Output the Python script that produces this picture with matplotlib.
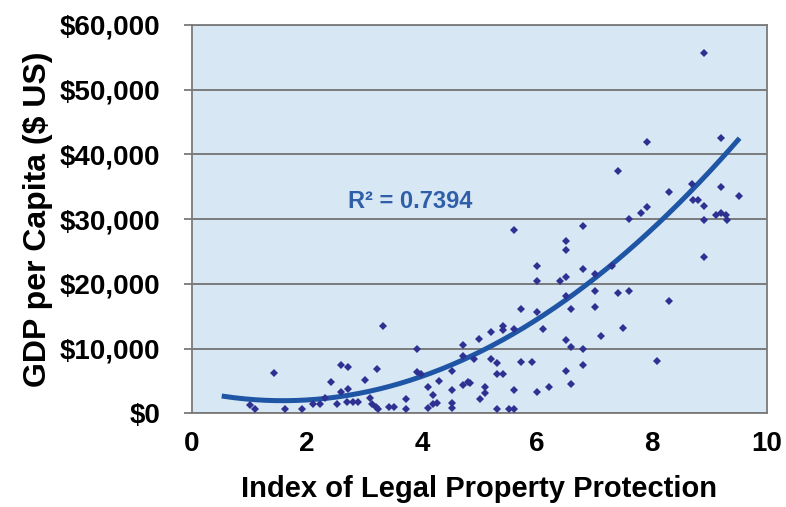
import numpy as np
import matplotlib.pyplot as plt
from matplotlib.ticker import FuncFormatter

# 財産保護指数 と 一人当たりGDP
index_vals = [1.01, 1.10, 1.42, 1.61, 1.91, 2.10, 2.22, 2.31, 2.42, 2.52,
              2.60, 2.72, 2.60, 2.72, 2.69, 2.81, 2.89, 3.01, 3.10, 3.13,
              3.21, 3.24, 3.22, 3.32, 3.43, 3.51, 3.72, 3.72, 3.91, 3.92,
              3.99, 4.10, 4.19, 4.26, 4.11, 4.20, 4.30, 4.52, 4.52, 4.52,
              4.52, 4.71, 4.71, 4.72, 4.80, 5.00, 4.90, 4.83, 5.10, 5.10,
              5.01, 5.21, 5.21, 5.31, 5.31, 5.41, 5.31, 5.51, 5.60, 5.41,
              5.41, 5.60, 5.60, 5.72, 5.92, 5.72, 5.60, 6.01, 6.01, 6.01,
              6.01, 6.11, 6.21, 6.41, 6.51, 6.51, 6.51, 6.51, 6.51, 6.51,
              6.60, 6.60, 6.60, 6.81, 6.81, 6.81, 6.81, 7.01, 7.01, 7.01,
              7.11, 7.30, 7.42, 7.42, 7.50, 7.61, 7.61, 7.81, 7.92, 7.92,
              8.10, 8.30, 8.30, 8.70, 8.71, 8.81, 8.91, 8.91, 8.91, 8.91,
              9.11, 9.21, 9.30, 9.31, 9.21, 9.21, 9.51]
gdp_vals = [1300, 700, 6300, 600, 600, 1400, 1400, 2400, 4800, 1400,
            7500, 7100, 3300, 3700, 1800, 1800, 1800, 5100, 2400, 1500,
            1000, 600, 6900, 13500, 1000, 1000, 2200, 600, 10000, 6400,
            6000, 800, 1500, 1600, 4000, 2800, 5000, 6600, 3600, 1600,
            800, 10600, 8900, 4300, 4800, 11500, 8400, 4700, 4100, 3200,
            2200, 12500, 8400, 7800, 6100, 6000, 600, 700, 600, 13500,
            12800, 13000, 3600, 8000, 8000, 16100, 28400, 22800, 20400, 15700,
            3300, 13100, 4100, 20400, 21000, 26700, 25200, 18100, 11300, 6600,
            16100, 10300, 4600, 29000, 22300, 9900, 7500, 21600, 18900, 16400,
            12000, 22800, 37400, 18600, 13200, 30000, 18900, 30900, 31900, 41900,
            8100, 34200, 17400, 35400, 33000, 33000, 32000, 29800, 24200, 55700,
            30700, 31000, 30600, 29800, 42500, 34900, 33500]

# 近似曲線 (2次多項式, 図から読み取った係数) と範囲
trend_coef = [642, -2029, 3553]
trend_range = [0.56, 9.5]

r2_text = "R² = 0.7394"
x_label = "Index of Legal Property Protection"
y_label = "GDP per Capita ($ US)"

plt.rcParams['font.family'] = ['Liberation Sans', 'DejaVu Sans']
plt.rcParams['font.weight'] = 'bold'

fig = plt.figure(figsize=(7.86, 5.07), dpi=100)
ax = fig.add_axes([0.2443, 0.1848, 0.7311, 0.7659])
ax.set_facecolor('#d8e7f4')

xs = np.linspace(trend_range[0], trend_range[1], 200)
ax.plot(xs, np.polyval(trend_coef, xs), color='#1f55a5', linewidth=3.6, zorder=3)

ax.plot(index_vals, gdp_vals, 'D', color='#2e3192', markersize=4, markeredgewidth=0, zorder=4)

ax.text(2.72, 31700, r2_text, color='#2f5fa8', fontsize=17, fontweight='bold')

ax.set_xlim(0, 10)
ax.set_ylim(0, 60000)
ax.set_xticks(range(0, 11, 2))
ax.set_yticks(range(0, 60001, 10000))
ax.yaxis.set_major_formatter(FuncFormatter(lambda v, p: "${:,.0f}".format(v)))
ax.grid(axis='y', color='#727272', linewidth=1.3, zorder=1)
ax.set_axisbelow(True)

for side in ['left', 'bottom', 'right', 'top']:
  ax.spines[side].set_color('#7a7a7a')
  ax.spines[side].set_linewidth(1.3)

ax.tick_params(axis='x', length=0, pad=13, labelsize=20)
ax.tick_params(axis='y', length=6, width=1.3, color='#7a7a7a', pad=17, labelsize=20)

ax.set_xlabel(x_label, fontsize=21, fontweight='bold', labelpad=13)
ax.set_ylabel(y_label, fontsize=23, fontweight='bold', labelpad=5)

plt.savefig("out.png", dpi=100)
